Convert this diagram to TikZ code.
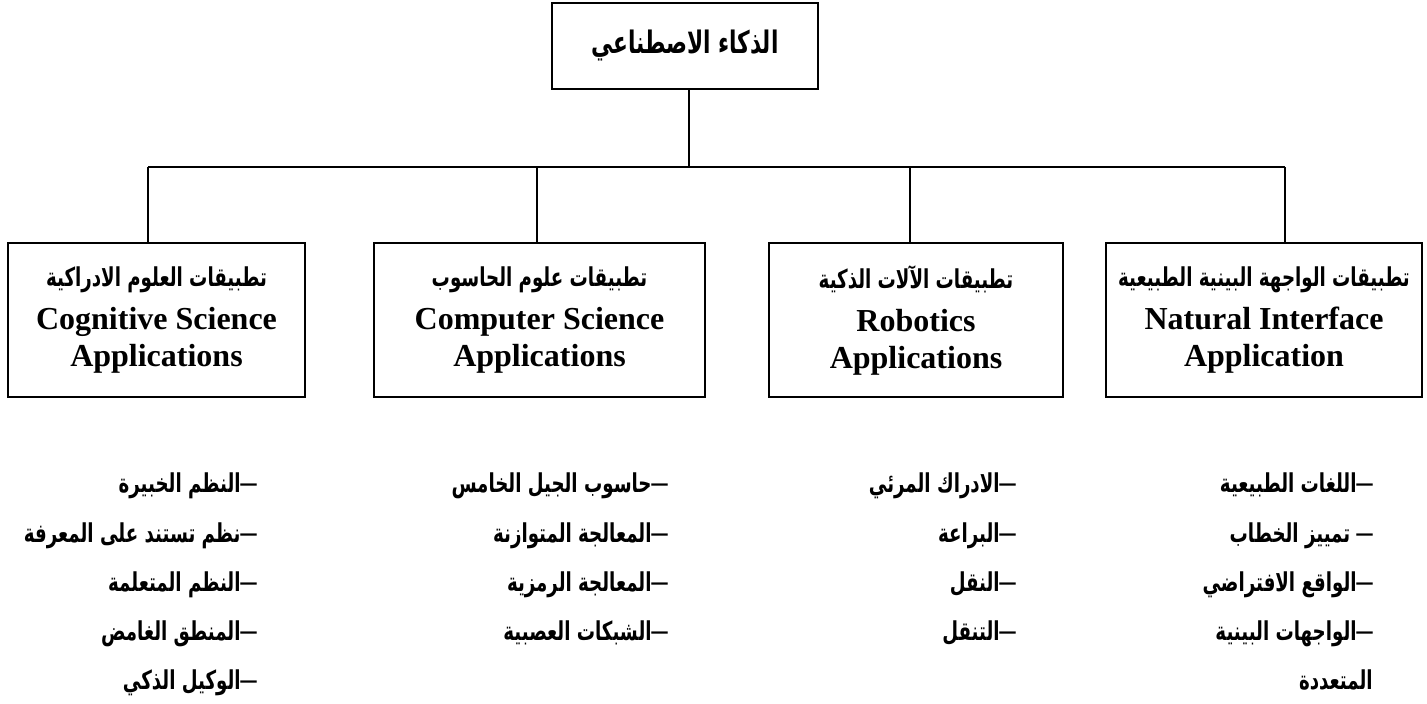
\documentclass[tikz,border=0pt]{standalone}
\usepackage{fontspec}
\TeXXeTstate=1
\newfontfamily\arfont[Script=Arabic,FakeStretch=0.7]{DejaVu Sans}
\newfontfamily\enfont{Liberation Serif}
% Arabic heading on top, English name below
\newcommand\cattext[3]{{\arfont\bfseries\fontsize{13}{14}\selectfont\beginR #1\endR}\\[3pt]
  {\enfont\bfseries #2}\\{\enfont\bfseries #3}}
% leading dash of a list entry
\newcommand\itemdash{{\enfont\bfseries\fontsize{16}{16}\selectfont –}}
\begin{document}
\begin{tikzpicture}[x=0.5pt,y=-0.5pt,
  box/.style={draw,line width=1.2pt,rectangle,inner sep=0pt,align=center,
    font=\fontsize{16}{18.5}\selectfont},
  link/.style={line width=0.9pt},
  listitem/.style={anchor=base east,inner sep=0pt,
    font=\arfont\bfseries\fontsize{13}{15}\selectfont}
]
\fill[white] (0,0) rectangle (1427,704);
\useasboundingbox (0,0) rectangle (1427,704);

% root
\node[box,minimum width=133pt,minimum height=43pt] (top) at (685,46)
  {\arfont\bfseries\fontsize{15.5}{18}\selectfont\beginR الذكاء الاصطناعي\endR};

% four application families
\node[box,minimum width=148.5pt,minimum height=77pt] (cog) at (156.5,320)
  {\cattext{تطبيقات العلوم الادراكية}{Cognitive Science}{Applications}};
\node[box,minimum width=165.5pt,minimum height=77pt] (comp) at (539.5,320)
  {\cattext{تطبيقات علوم الحاسوب}{Computer Science}{Applications}};
\node[box,minimum width=147pt,minimum height=77pt] (robo) at (916,320)
  {\cattext{تطبيقات الآلات الذكية}{Robotics}{Applications}};
\node[box,minimum width=158pt,minimum height=77pt] (nat) at (1264,320)
  {\cattext{تطبيقات الواجهة البينية الطبيعية}{Natural Interface}{Application}};

% tree connectors
\coordinate (jt) at (689,167);
\coordinate (j1) at (148,167);
\coordinate (j2) at (537,167);
\coordinate (j3) at (910,167);
\coordinate (j4) at (1285,167);
\draw[link] (jt |- top.south) -- (jt);
\draw[link] (j1) -- (j4);
\draw[link] (j1) -- (j1 |- cog.north);
\draw[link] (j2) -- (j2 |- comp.north);
\draw[link] (j3) -- (j3 |- robo.north);
\draw[link] (j4) -- (j4 |- nat.north);

% item lists under each family
\foreach \t [count=\i] in {النظم الخبيرة,نظم تستند على المعرفة,النظم المتعلمة,المنطق الغامض,الوكيل الذكي}
  \node[listitem] (cogitem\i) at (257,{493+49*(\i-1)}) {\beginR\itemdash\t\endR};
\foreach \t [count=\i] in {حاسوب الجيل الخامس,المعالجة المتوازنة,المعالجة الرمزية,الشبكات العصبية}
  \node[listitem] (compitem\i) at (668,{493+49*(\i-1)}) {\beginR\itemdash\t\endR};
\foreach \t [count=\i] in {الادراك المرئي,البراعة,النقل,التنقل}
  \node[listitem] (roboitem\i) at (1016,{493+49*(\i-1)}) {\beginR\itemdash\t\endR};
\node[listitem] (natitem1) at (1373,493) {\beginR\itemdash اللغات الطبيعية\endR};
\node[listitem] (natitem2) at (1373,542) {\beginR\itemdash\ تمييز الخطاب\endR};
\node[listitem] (natitem3) at (1373,591) {\beginR\itemdash الواقع الافتراضي\endR};
\node[listitem] (natitem4) at (1373,640) {\beginR\itemdash الواجهات البينية\endR};
\node[listitem] (natitem5) at (1373,689) {\beginR المتعددة\endR};
\end{tikzpicture}
\end{document}
